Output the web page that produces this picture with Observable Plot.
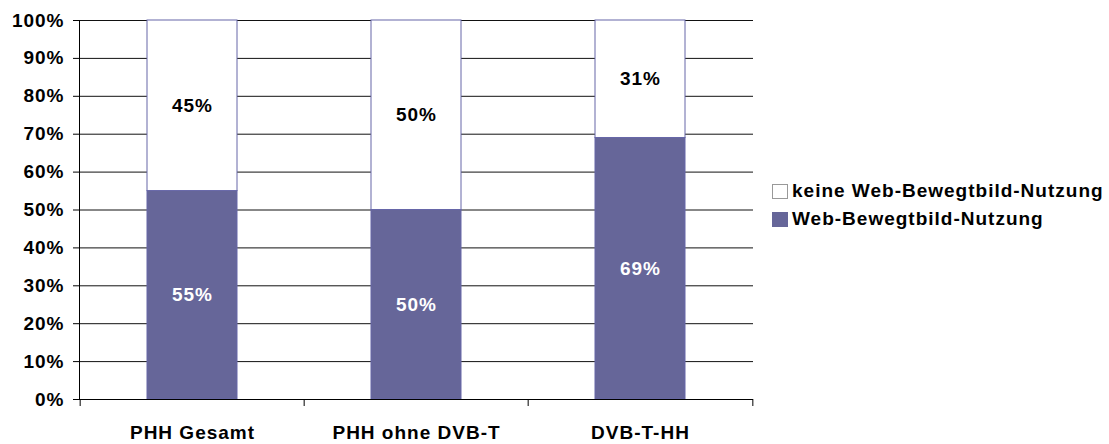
<!DOCTYPE html>
<html><head><meta charset="utf-8">
<script src="https://cdn.jsdelivr.net/npm/d3@7"></script>
<script src="https://cdn.jsdelivr.net/npm/@observablehq/plot@0.6"></script>
<style>
body{margin:0;background:#fff;font-family:"Liberation Sans",Arial,sans-serif;}
#wrap{position:relative;width:1109px;height:444px;overflow:hidden;}
#legend{position:absolute;left:772px;top:177px;font-weight:bold;font-size:19px;letter-spacing:1px;color:#000;}
#legend .item{display:flex;align-items:center;height:28px;white-space:nowrap;}
#legend .sw{width:16px;height:15px;margin-right:4px;box-sizing:border-box;}
</style></head><body>
<div id="wrap"><div id="chart"></div><div id="legend"></div></div>
<script>
const categories = ["PHH Gesamt", "PHH ohne DVB-T", "DVB-T-HH"];
const seriesNames = ["Web-Bewegtbild-Nutzung", "keine Web-Bewegtbild-Nutzung"];
const webValues = [55, 50, 69];
const keineValues = [45, 50, 31];
const yTicks = [0, 10, 20, 30, 40, 50, 60, 70, 80, 90, 100];
const seriesFill = ["#666699", "#ffffff"];
const seriesText = ["#ffffff", "#000000"];
const legendOrder = [1, 0];

const data = [];
categories.forEach((c, i) => {
  data.push({cat: c, s: 0, value: webValues[i]});
  data.push({cat: c, s: 1, value: keineValues[i]});
});

const W = 770, ML = 79, MR = 17;
const step = (W - ML - MR) / categories.length;

const chart = Plot.plot({
  width: W, height: 444,
  marginLeft: ML, marginRight: MR, marginTop: 20, marginBottom: 45,
  style: {fontFamily: '"Liberation Sans", Arial, sans-serif', fontSize: "19px", fontWeight: "bold", letterSpacing: "1px", color: "#000", background: "white"},
  x: {domain: categories, paddingInner: 0.6, paddingOuter: 0.3, label: null},
  y: {domain: [0, 100], label: null},
  color: {type: "identity"},
  marks: [
    Plot.ruleY(yTicks, {y: d => d, stroke: "#111", strokeWidth: 1}),
    Plot.barY(data, {x: "cat", y: "value", z: "s", fill: d => seriesFill[d.s], stroke: "#6666a8", strokeWidth: 1}),
    Plot.text(data, Plot.stackY({x: "cat", y: "value", z: "s", text: d => d.value + "%", fill: d => seriesText[d.s], fontSize: 19, fontWeight: "bold"})),
    Plot.axisY({ticks: yTicks, tickFormat: d => d + "%", tickSize: 6, tickPadding: 9, label: null, stroke: "#000"}),
    Plot.axisX({tickSize: 0, tickPadding: 26, label: null}),
    Plot.frame({anchor: "left", stroke: "#000"}),
    Plot.ruleY([0], {stroke: "#000"}),
    Plot.ruleX(categories, {x: d => d, y1: 0, y2: 0, insetBottom: -7, dx: -step / 2, stroke: "#000"}),
    Plot.ruleX(categories.slice(-1), {x: d => d, y1: 0, y2: 0, insetBottom: -7, dx: step / 2, stroke: "#000"})
  ]
});
document.getElementById("chart").appendChild(chart);

const legend = document.getElementById("legend");
legendOrder.forEach(k => {
  const item = document.createElement("div");
  item.className = "item";
  const sw = document.createElement("span");
  sw.className = "sw";
  sw.style.background = seriesFill[k];
  sw.style.border = k === 1 ? "1px solid #999" : "none";
  item.appendChild(sw);
  const t = document.createElement("span");
  t.textContent = seriesNames[k];
  item.appendChild(t);
  legend.appendChild(item);
});
</script>
</body></html>
